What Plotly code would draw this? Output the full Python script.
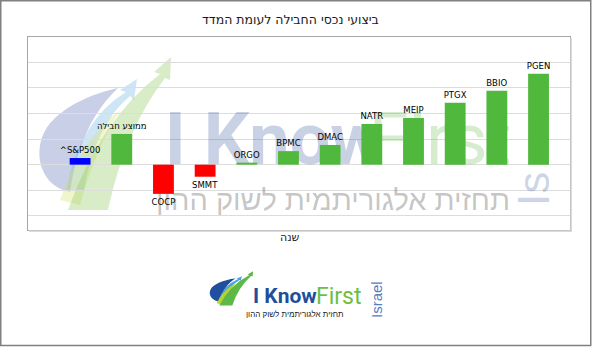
import plotly.graph_objects as go

# ---------------- data ----------------
categories = ["^S&P500", "ממוצע חבילה", "COCP", "SMMT", "ORGO", "BPMC",
              "DMAC", "NATR", "MEIP", "PTGX", "BBIO", "PGEN"]
returns = [2.6, 12.0, -11.4, -4.7, 0.8, 5.3, 7.7, 15.9, 18.2, 24.2, 28.9, 35.5]
bar_colors = ["#0000ff", "#50b83c", "#ff0000", "#ff0000", "#50b83c", "#50b83c",
              "#50b83c", "#50b83c", "#50b83c", "#50b83c", "#50b83c", "#50b83c"]
title_text = "ביצועי נכסי החבילה לעומת המדד"
x_title = "שנה"
brand_a = "I Know"
brand_b = "First"
brand_c = "Israel"
tagline = "תחזית אלגוריתמית לשוק ההון"

# ---------------- geometry helpers ----------------
W, H = 592, 347
L, R, T, B = 28, 22, 37, 117
PW, PH = W - L - R, H - T - B


def px(x):
    return (x - L) / PW


def py(y):
    return (H - B - y) / PH


# normalized swoosh outline (u right, v down inside a bounding box)
BLOB = [("M", [(0.224, 0.872)]),
        ("C", [(-0.037, 0.827), (-0.075, 0.538), (0.112, 0.397)]),
        ("C", [(0.261, 0.282), (0.448, 0.231), (0.582, 0.205)]),
        ("C", [(0.410, 0.346), (0.284, 0.538), (0.224, 0.872)])]
LIGHT = [("M", [(0.194, 0.859)]), ("Q", [(0.299, 0.41), (0.642, 0.231)]),
         ("L", [(0.597, 0.218)]), ("L", [(0.724, 0.147)]), ("L", [(0.701, 0.282)]),
         ("L", [(0.672, 0.256)]), ("Q", [(0.41, 0.442), (0.328, 0.859)])]
YELLOW = [("M", [(0.149, 0.923)]), ("Q", [(0.299, 0.538), (0.597, 0.346)]),
          ("Q", [(0.41, 0.603), (0.299, 0.955)])]
GREEN = [("M", [(0.209, 0.987)]), ("Q", [(0.448, 0.41), (0.896, 0.115)]),
         ("L", [(0.851, 0.103)]), ("L", [(0.978, 0.006)]), ("L", [(0.970, 0.154)]),
         ("L", [(0.933, 0.141)]), ("Q", [(0.634, 0.474), (0.507, 0.987)])]


def to_path(spec, x0, y0, w, h):
    parts = []
    for cmd, pts in spec:
        coords = " ".join(f"{px(x0 + u * w):.5f},{py(y0 + v * h):.5f}" for u, v in pts)
        parts.append(f"{cmd} {coords}")
    return " ".join(parts) + " Z"


def swoosh(x0, y0, w, h, colors, layer):
    out = []
    for spec, col in zip([BLOB, LIGHT, YELLOW, GREEN], colors):
        out.append(dict(type="path", path=to_path(spec, x0, y0, w, h), xref="paper",
                        yref="paper", layer=layer, fillcolor=col, line=dict(width=0)))
    return out


fig = go.Figure()

# watermark text on the base subplot (drawn underneath the bars)
fig.add_trace(go.Scatter(
    x=[px(274), px(440), px(333)], y=[py(146), py(146), py(203)],
    text=[f"<b>{brand_a}</b>", brand_b, tagline], mode="text", hoverinfo="skip",
    textposition="middle center", cliponaxis=False, showlegend=False,
    textfont=dict(family=["Roboto", "Roboto", "Liberation Sans"],
                  size=[72, 72, 29],
                  color=["rgba(60,90,160,0.28)", "rgba(90,180,60,0.25)",
                         "rgba(90,90,90,0.36)"]),
    xaxis="x", yaxis="y"))

# bars on overlaying axes
fig.add_trace(go.Bar(
    x=categories, y=returns, marker=dict(color=bar_colors, line=dict(width=0)),
    width=0.5, text=categories, textposition="outside", cliponaxis=False,
    constraintext="none",
    textfont=dict(family="DejaVu Sans", size=8.5, color="#000000"),
    hoverinfo="skip", showlegend=False, xaxis="x2", yaxis="y2"))

shapes = []
shapes += swoosh(40, 56, 134, 156,
                 ["rgba(110,130,190,0.38)", "rgba(110,180,230,0.34)",
                  "rgba(215,228,120,0.38)", "rgba(140,200,95,0.34)"], "below")
shapes += swoosh(210, 271, 44, 35,
                 ["#1f4f9e", "#45a6e0", "#b6d334", "#5db848"], "above")
# plot frame shadow
shapes += [
    dict(type="line", xref="paper", yref="paper", x0=px(L + 1), x1=px(W - R + 1.5),
         y0=py(H - B + 1), y1=py(H - B + 1), line=dict(color="#cfcfcf", width=1.5)),
    dict(type="line", xref="paper", yref="paper", x0=px(W - R + 1), x1=px(W - R + 1),
         y0=py(T + 1), y1=py(H - B + 1.5), line=dict(color="#cfcfcf", width=1.5)),
]
# outer border of the whole picture
shapes.append(dict(type="rect", xref="paper", yref="paper",
                   x0=px(0.75), x1=px(590.75), y0=py(0.75), y1=py(345.5),
                   line=dict(color="#808080", width=1.5)))


def ann(text, x, y, font, xanchor="center", angle=0):
    return dict(text=text, x=px(x), y=py(y), xref="paper", yref="paper",
                xanchor=xanchor, yanchor="middle", textangle=angle,
                showarrow=False, font=font)


annotations = [
    ann(title_text, 290, 20, dict(family="DejaVu Sans", size=12.5, color="#1a1a1a")),
    ann(x_title, 290, 238, dict(family="DejaVu Sans", size=11, color="#1a1a1a")),
    # watermark "Is" fragment (rest of the word is hidden behind the PGEN bar)
    ann("Is", 533, 189, dict(family="Liberation Sans", size=44,
                             color="rgba(60,90,160,0.26)"), angle=-90),
    # bottom logo
    ann(f"<b>{brand_a}</b>", 251, 296, dict(family="Roboto", size=21, color="#1d4f9c"),
        xanchor="left"),
    ann(brand_b, 314, 296, dict(family="Roboto", size=23, color="#6cbf45"),
        xanchor="left"),
    ann(brand_c, 376, 300, dict(family="Liberation Sans", size=15, color="#5a7dbf"),
        angle=-90),
    ann(tagline, 295, 314, dict(family="Liberation Sans", size=8, color="#222222")),
]

fig.update_layout(
    width=W, height=H, margin=dict(l=L, r=R, t=T, b=B, pad=0),
    paper_bgcolor="#ffffff", plot_bgcolor="#ffffff",
    shapes=shapes, annotations=annotations,
    xaxis=dict(range=[0, 1], visible=False, fixedrange=True),
    yaxis=dict(range=[0, 1], visible=False, fixedrange=True),
    xaxis2=dict(overlaying="x", type="category", range=[-1.25, 11.755],
                showticklabels=False, ticks="", showgrid=False, zeroline=False,
                showline=True, mirror=True, linecolor="#a6a6a6", linewidth=1),
    yaxis2=dict(overlaying="y", range=[-25.5, 49.85], tick0=0, dtick=10,
                showticklabels=False, ticks="", showgrid=True, gridcolor="#dcdcdc",
                gridwidth=1, zeroline=False, showline=True, mirror=True,
                linecolor="#a6a6a6", linewidth=1),
)

fig.write_html("out.html")
